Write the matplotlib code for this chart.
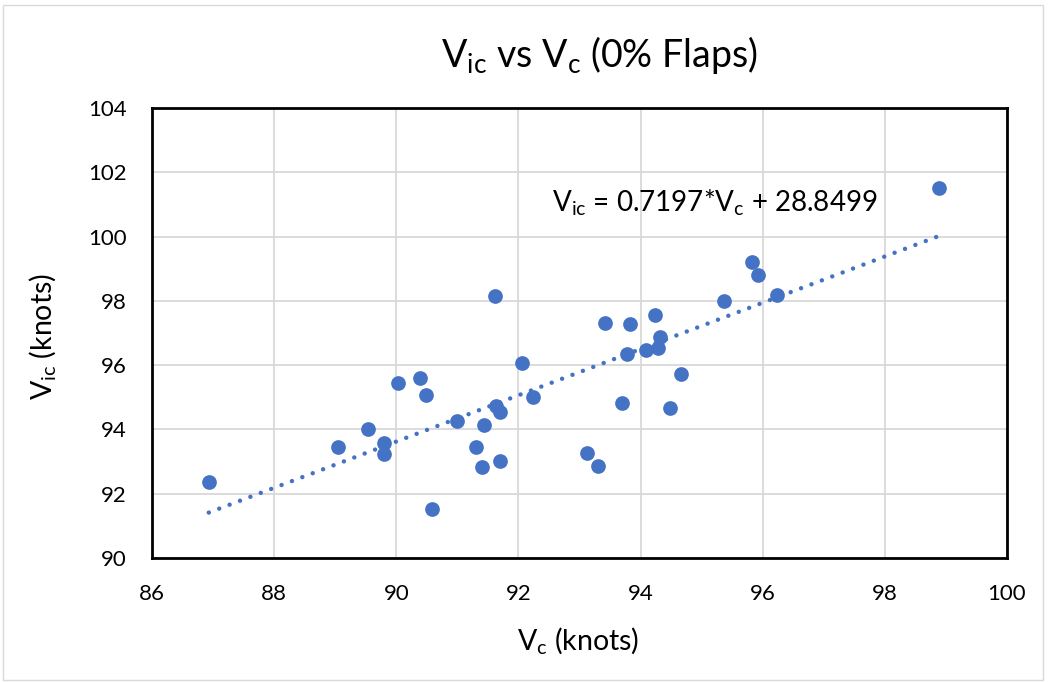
import matplotlib
matplotlib.use("Agg")
import matplotlib.pyplot as plt
from matplotlib.patches import Rectangle
import numpy as np

plt.rcParams['font.family'] = ['Lato', 'DejaVu Sans']
plt.rcParams['mathtext.default'] = 'regular'

vc = [86.93, 89.04, 89.54, 89.80, 89.80, 90.03, 90.39, 90.48, 90.58, 90.99,
      91.30, 91.40, 91.43, 91.61, 91.63, 91.70, 91.70, 92.06, 92.24, 93.12,
      93.30, 93.41, 93.69, 93.77, 93.82, 94.09, 94.23, 94.28, 94.31, 94.48,
      94.67, 95.36, 95.82, 95.92, 96.23, 98.88]
vic = [92.37, 93.46, 94.02, 93.58, 93.24, 95.45, 95.61, 95.08, 91.53, 94.27,
       93.46, 92.83, 94.14, 98.16, 94.73, 94.55, 93.02, 96.07, 95.02, 93.27,
       92.87, 97.32, 94.83, 96.36, 97.29, 96.48, 97.57, 96.54, 96.88, 94.67,
       95.73, 98.00, 99.22, 98.82, 98.19, 101.50]
slope = 0.7197
intercept = 28.8499
x_ticks = [86, 88, 90, 92, 94, 96, 98, 100]
y_ticks = [90, 92, 94, 96, 98, 100, 102, 104]

W, H = 1048, 683
blue = '#4472C4'
fig = plt.figure(figsize=(W/100, H/100), dpi=100)
ax = fig.add_axes([152/W, 1-558/H, (1007-152)/W, (558-108)/H])

ax.scatter(vc, vic, s=112, color=blue, zorder=3, linewidths=0)
xt = np.array([min(vc), max(vc)])
ax.plot(xt, slope*xt + intercept, color=blue, lw=3.2, linestyle=(0, (0.01, 2.49)),
        dash_capstyle='round', zorder=2)

ax.set_xlim(86, 100)
ax.set_ylim(90, 104)
ax.set_xticks(x_ticks)
ax.set_yticks(y_ticks)
ax.set_xticklabels([str(t) for t in x_ticks], fontsize=16)
ax.set_yticklabels([str(t) for t in y_ticks], fontsize=16)
ax.tick_params(axis='x', length=0, pad=19)
ax.tick_params(axis='y', length=0, pad=18)
ax.grid(True, color='#D9D9D9', lw=1.3, zorder=0)
ax.set_axisbelow(True)
for s in ax.spines.values():
    s.set_color('black')
    s.set_linewidth(2)

fig.text(599/W, 1-67/H, r'V$_{ic}$ vs V$_{c}$ (0% Flaps)', fontsize=27,
         ha='center', va='baseline')
fig.text(578/W, 1-649/H, r'V$_{c}$ (knots)', fontsize=20.5, ha='center', va='baseline')
fig.text(43/W, 1-337/H, r'V$_{ic}$ (knots)', fontsize=20.5, ha='center', va='center',
         rotation=90)
fig.text(552/W, 1-211/H, r'V$_{ic}$ = 0.7197*V$_{c}$ + 28.8499', fontsize=20,
         ha='left', va='baseline')

fig.patches.append(Rectangle((3/W, 3/H), 1-8/W, 1-8/H, transform=fig.transFigure,
                             fill=False, edgecolor='#D9D9D9', lw=1))
fig.savefig('out.png', dpi=100, facecolor='white')
